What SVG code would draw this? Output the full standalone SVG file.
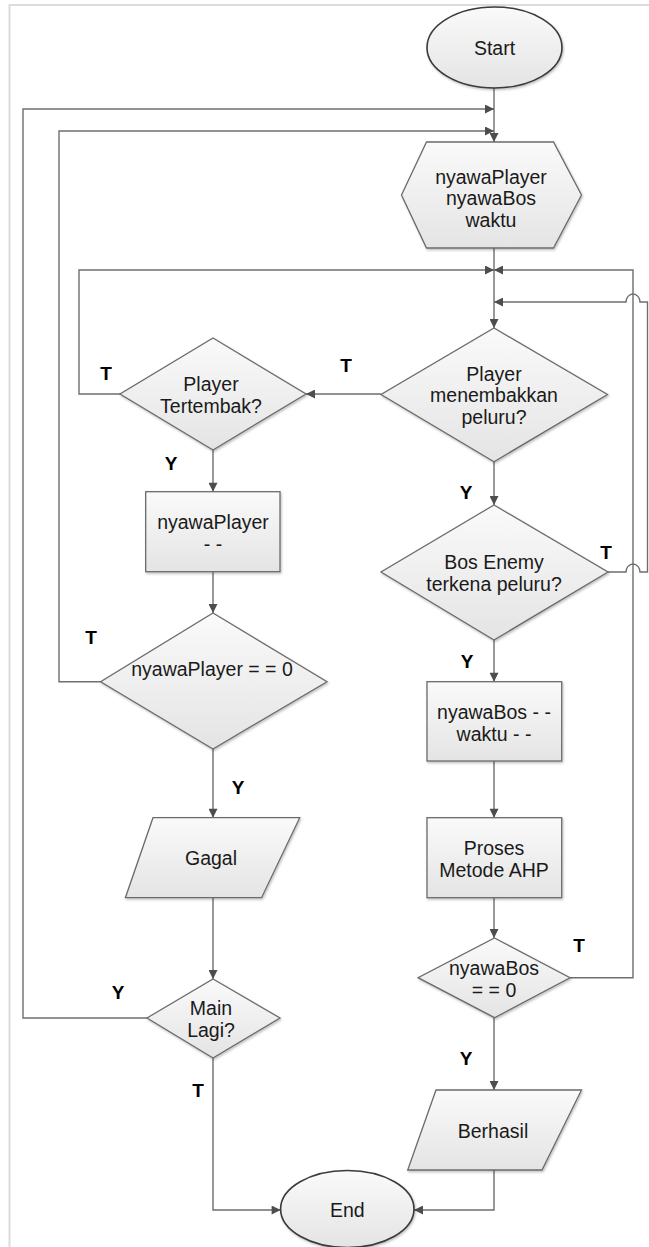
<svg xmlns="http://www.w3.org/2000/svg" width="649" height="1247" viewBox="0 0 649 1247">
<style>
.node{fill:url(#g);stroke:#6b6b6b;stroke-width:1.3;filter:url(#sh)}
.term{fill:url(#g);stroke:#3a3a3a;stroke-width:1.6;filter:url(#sh)}
.t{font-family:"Liberation Sans",Arial,sans-serif;font-size:19.5px;fill:#1a1a1a;text-anchor:middle}
.lb{font-family:"Liberation Sans",Arial,sans-serif;font-size:19px;font-weight:bold;fill:#000;text-anchor:middle}
.c{fill:none;stroke:#6e6e6e;stroke-width:1.4}
</style>
<defs>
<linearGradient id="g" x1="0" y1="0" x2="0" y2="1">
<stop offset="0" stop-color="#fafafa"/>
<stop offset="1" stop-color="#e4e4e4"/>
</linearGradient>
<filter id="sh" x="-10%" y="-10%" width="130%" height="130%">
<feDropShadow dx="1" dy="1.5" stdDeviation="1" flood-color="#000" flood-opacity="0.25"/>
</filter>
<marker id="a" viewBox="0 0 10 10" refX="10" refY="5" markerWidth="10" markerHeight="9" markerUnits="userSpaceOnUse" orient="auto">
<path d="M0,0 L10,5 L0,10 z" fill="#4d4d4d"/>
</marker>
</defs>
<rect width="649" height="1247" fill="#fff"/>
<path d="M9.5,1247 V5 H649" fill="none" stroke="#dcdcdc" stroke-width="2"/>

<g id="connectors">
<path class="c" d="M494,88 V142" marker-end="url(#a)"/>
<path class="c" d="M147,1018 H23 V109 H494" marker-end="url(#a)"/>
<path class="c" d="M100.6,681.7 H59 V131 H494" marker-end="url(#a)"/>
<path class="c" d="M494,248 V328" marker-end="url(#a)"/>
<path class="c" d="M120,394 H79 V270 H494" marker-end="url(#a)"/>
<path class="c" d="M570,977.7 H633 V270 H494" marker-end="url(#a)"/>
<path class="c" d="M608,572 H626 A7,8 0 0 1 640,572 H647.5 V302 H640 A7,8 0 0 0 626,302 H494" marker-end="url(#a)"/>
<path class="c" d="M381,394 H306" marker-end="url(#a)"/>
<path class="c" d="M213,450 V491.7" marker-end="url(#a)"/>
<path class="c" d="M213,571.7 V613" marker-end="url(#a)"/>
<path class="c" d="M213,749 V817.7" marker-end="url(#a)"/>
<path class="c" d="M213,897.7 V979" marker-end="url(#a)"/>
<path class="c" d="M213,1058 V1210 H280.6" marker-end="url(#a)"/>
<path class="c" d="M494,461.7 V505" marker-end="url(#a)"/>
<path class="c" d="M494,640 V681.7" marker-end="url(#a)"/>
<path class="c" d="M494,761 V817.7" marker-end="url(#a)"/>
<path class="c" d="M494,897.7 V938" marker-end="url(#a)"/>
<path class="c" d="M494,1017.7 V1090" marker-end="url(#a)"/>
<path class="c" d="M494,1170 V1210 H414" marker-end="url(#a)"/>
<text class="lb" x="346" y="372">T</text>
<text class="lb" x="106" y="380">T</text>
<text class="lb" x="171" y="470">Y</text>
<text class="lb" x="466" y="499">Y</text>
<text class="lb" x="606" y="559">T</text>
<text class="lb" x="91" y="644">T</text>
<text class="lb" x="467" y="668">Y</text>
<text class="lb" x="238" y="794">Y</text>
<text class="lb" x="579" y="952">T</text>
<text class="lb" x="118" y="999">Y</text>
<text class="lb" x="466" y="1065">Y</text>
<text class="lb" x="198" y="1097">T</text>
</g>

<g id="start">
<ellipse class="term" cx="494.5" cy="47.5" rx="67.5" ry="40.5"/>
<text class="t" x="494.5" y="55">Start</text>
</g>
<g id="init">
<polygon class="node" points="426.5,142 553.5,142 581.5,195 553.5,248 426.5,248 401.5,195"/>
<text class="t" x="491" y="183.5">nyawaPlayer</text>
<text class="t" x="491" y="205">nyawaBos</text>
<text class="t" x="491" y="226.5">waktu</text>
</g>
<g id="shoot">
<polygon class="node" points="494,328 607.5,394.5 494,461.7 381,394.5"/>
<text class="t" x="494" y="380.7">Player</text>
<text class="t" x="494" y="402.3">menembakkan</text>
<text class="t" x="494" y="424">peluru?</text>
</g>
<g id="hit">
<polygon class="node" points="213,338 306,394 213,450 120,394"/>
<text class="t" x="211" y="391">Player</text>
<text class="t" x="211" y="413">Tertembak?</text>
</g>
<g id="decPlayer">
<rect class="node" x="145.7" y="491.7" width="134.3" height="80"/>
<text class="t" x="213" y="529">nyawaPlayer</text>
<text class="t" x="213" y="551">- -</text>
</g>
<g id="playerZero">
<polygon class="node" points="213,613 327,681.7 213,749 100.6,681.7"/>
<text class="t" x="212" y="676">nyawaPlayer = = 0</text>
</g>
<g id="gagal">
<polygon class="node" points="153,817.7 299.7,817.7 261.6,897.7 125.4,897.7"/>
<text class="t" x="211" y="865">Gagal</text>
</g>
<g id="mainLagi">
<polygon class="node" points="213,979 280,1018 213,1058 147,1018"/>
<text class="t" x="211" y="1014.5">Main</text>
<text class="t" x="211" y="1036.5">Lagi?</text>
</g>
<g id="bosHit">
<polygon class="node" points="494,505 608,572 494,640 381,572"/>
<text class="t" x="494" y="568.5">Bos Enemy</text>
<text class="t" x="494" y="590.5">terkena peluru?</text>
</g>
<g id="decBos">
<rect class="node" x="427" y="681.7" width="134.7" height="79.3"/>
<text class="t" x="494" y="718.5">nyawaBos - -</text>
<text class="t" x="494" y="740.5">waktu - -</text>
</g>
<g id="ahp">
<rect class="node" x="427" y="817.7" width="134.7" height="80"/>
<text class="t" x="494" y="854.5">Proses</text>
<text class="t" x="494" y="876.5">Metode AHP</text>
</g>
<g id="bosZero">
<polygon class="node" points="494.5,938 570,977.7 494.5,1017.7 418,977.7"/>
<text class="t" x="494" y="974.5">nyawaBos</text>
<text class="t" x="494" y="996.5">= = 0</text>
</g>
<g id="berhasil">
<polygon class="node" points="436,1090 581.5,1090 542,1170 407.7,1170"/>
<text class="t" x="493" y="1138">Berhasil</text>
</g>
<g id="end">
<ellipse class="term" cx="347.3" cy="1209" rx="66.7" ry="38.5"/>
<text class="t" x="347.3" y="1217">End</text>
</g>
</svg>
